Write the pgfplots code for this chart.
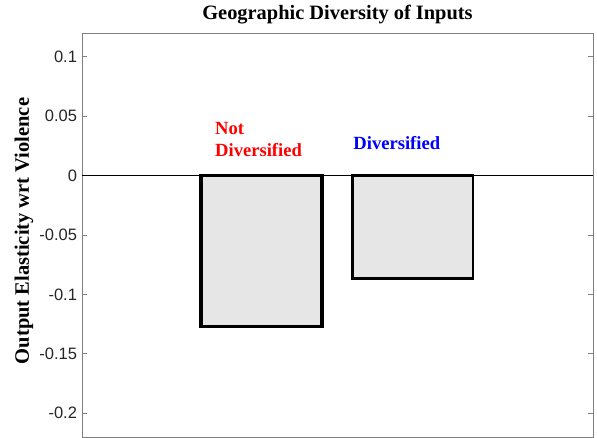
\documentclass[border=0pt]{standalone}
\usepackage{fontspec}
\setmainfont{Liberation Serif}
\newfontfamily\tickfont{Liberation Sans}
\usepackage{pgfplots}
\pgfplotsset{compat=1.18}
\definecolor{barfill}{HTML}{E6E6E6}
\definecolor{framec}{HTML}{808080}
\definecolor{tickc}{HTML}{262626}
\begin{document}
\begin{tikzpicture}
\begin{axis}[
  scale only axis,
  width=511bp, height=404bp,
  xmin=-0.189, xmax=3.193,
  ymin=-0.22, ymax=0.12,
  xtick=\empty,
  ytick={-0.2,-0.15,-0.1,-0.05,0,0.05,0.1},
  yticklabels={-0.2,-0.15,-0.1,-0.05,0,0.05,0.1},
  tick align=inside,
  major tick length=5bp,
  axis line style={color=framec, line width=0.9bp},
  every tick/.style={color=framec, line width=0.9bp},
  yticklabel style={font=\tickfont\fontsize{16.5bp}{18bp}\selectfont, color=tickc, xshift=-1.5bp},
  title={Geographic Diversity of Inputs},
  title style={font=\bfseries\fontsize{20.4bp}{22bp}\selectfont, at={(rel axis cs:0.5,1)}, anchor=base, yshift=8bp},
  ylabel={Output Elasticity wrt Violence},
  ylabel style={font=\bfseries\fontsize{20.5bp}{22bp}\selectfont, at={(rel axis cs:0,0.51)}, anchor=center, rotate=0, yshift=58bp},
  clip=false,
]
\addplot[ybar, bar width=0.8, bar shift=0pt, fill=barfill, draw=black, line width=3.5bp] coordinates {(1,-0.1268)};
\addplot[ybar, bar width=0.8, bar shift=0pt, fill=barfill, draw=black, line width=2.6bp] coordinates {(2,-0.0865)};
\draw[black, line width=0.9bp] (axis cs:-0.189,0) -- (axis cs:3.193,0);
\node[anchor=base west, inner sep=0pt, text=red, font=\bfseries\fontsize{18.6bp}{20bp}\selectfont] at (axis cs:0.691,0.0345) {Not};
\node[anchor=base west, inner sep=0pt, text=red, font=\bfseries\fontsize{18.6bp}{20bp}\selectfont] at (axis cs:0.691,0.0162) {Diversified};
\node[anchor=base west, inner sep=0pt, text=blue, font=\bfseries\fontsize{18.6bp}{20bp}\selectfont] at (axis cs:1.606,0.0219) {Diversified};
\end{axis}
\pgfresetboundingbox
\path[use as bounding box] ([shift={(-82bp,-1bp)}]current axis.south west) rectangle ([shift={(4bp,33bp)}]current axis.north east);
\end{tikzpicture}
\end{document}
